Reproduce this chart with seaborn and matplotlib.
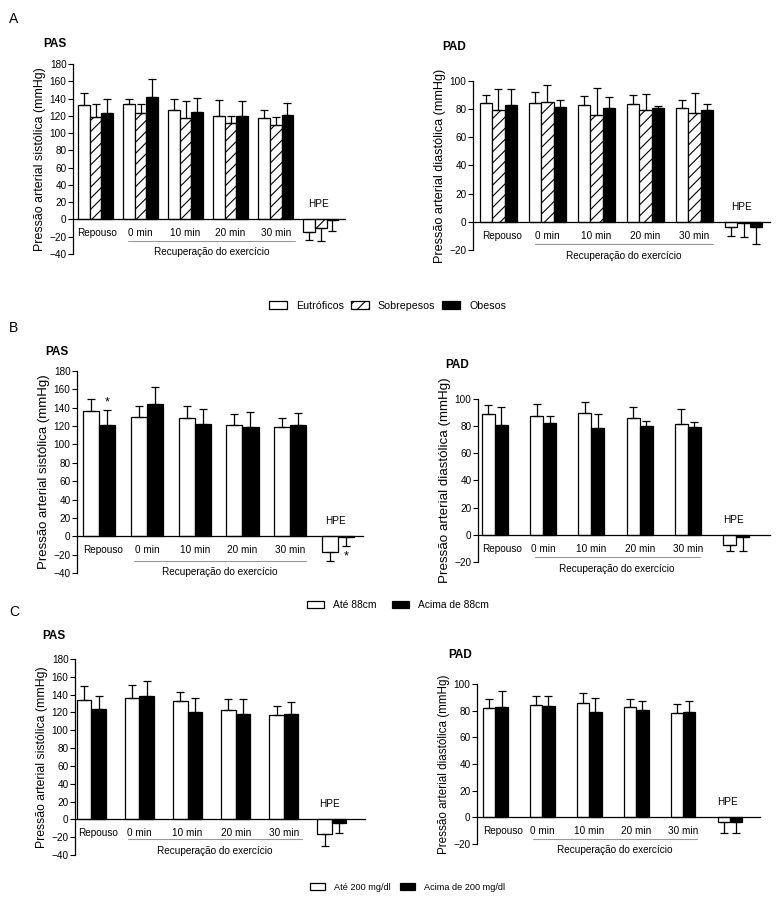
import numpy as np
import pandas as pd
import matplotlib
matplotlib.use("Agg")
import matplotlib.pyplot as plt
import seaborn as sns
from matplotlib.patches import Patch
from matplotlib.transforms import offset_copy

# ---- data ----
times = ["Repouso", "0 min", "10 min", "20 min", "30 min", "HPE"]

grupos_a = ["Eutróficos", "Sobrepesos", "Obesos"]
grupos_b = ["Até 88cm", "Acima de 88cm"]
grupos_c = ["Até 200 mg/dl", "Acima de 200 mg/dl"]

# A - IMC
pas_a_eut = [132, 134, 127, 120, 117, -14.6]
pas_a_eut_dp = [15, 6, 13, 18, 10, 9.5]
pas_a_sob = [118.5, 123, 117, 111.5, 109, -9.5]
pas_a_sob_dp = [15.5, 11, 20, 8.5, 10, 15.5]
pas_a_obe = [123, 142, 125, 120, 121.5, -1]
pas_a_obe_dp = [16, 21, 16, 17, 13.5, 12.5]

pad_a_eut = [84.6, 84.4, 82.7, 84, 81, -4]
pad_a_eut_dp = [5.2, 8, 6.7, 5.8, 5.3, 6]
pad_a_sob = [79.2, 85, 76, 79.2, 77.3, -1]
pad_a_sob_dp = [15.4, 12, 19.3, 11.8, 14.2, 10]
pad_a_obe = [83.2, 81.8, 81, 80.6, 79.7, -3.5]
pad_a_obe_dp = [11.4, 5, 7.6, 1.7, 3.7, 12.3]

# B - circunferencia abdominal
pas_b_ate = [136.3, 130, 128.7, 121.5, 119, -17]
pas_b_ate_dp = [13.1, 12, 12.7, 11.5, 10, 10]
pas_b_aci = [121.5, 144, 122.6, 119.3, 121, -1]
pas_b_aci_dp = [15.9, 18.4, 16.4, 15.7, 13, 10]

pad_b_ate = [88.9, 87.7, 89.6, 86.2, 81.5, -7.2]
pad_b_ate_dp = [6.9, 8.8, 8.2, 7.8, 11.3, 4.8]
pad_b_aci = [81, 82.2, 79, 79.8, 79.3, -1.7]
pad_b_aci_dp = [12.8, 5, 9.9, 4.2, 3.7, 10.3]

# C - colesterol
pas_c_ate = [134.3, 136, 132.5, 122.4, 117, -16]
pas_c_ate_dp = [15.7, 14.7, 10, 12.6, 10.6, 14]
pas_c_aci = [124, 138, 121, 118.3, 118.7, -4.5]
pas_c_aci_dp = [14, 17.6, 15.6, 16.7, 12.6, 10.5]

pad_c_ate = [81.75, 84, 86, 83, 78, -3.75]
pad_c_ate_dp = [7, 7, 7, 6, 6.75, 7.75]
pad_c_aci = [82.5, 83.5, 78.75, 80.5, 79.25, -3.25]
pad_c_aci_dp = [12.5, 7.5, 11, 7, 8, 8.75]

# ---- figure ----
sns.set_style("ticks")
plt.rcParams["font.family"] = ["Liberation Sans", "DejaVu Sans"]
plt.rcParams["hatch.linewidth"] = 0.8
for k in ("axes.edgecolor", "text.color", "axes.labelcolor", "xtick.color", "ytick.color"):
    plt.rcParams[k] = "black"

W, H = 777, 902
fig = plt.figure(figsize=(W / 100, H / 100), dpi=100)


def add_ax(left, top, right, bottom):
    return fig.add_axes([left / W, 1 - bottom / H, (right - left) / W, (bottom - top) / H])


def shifted(ax, dy, dx=0):
    return offset_copy(ax.transData, fig=fig, x=dx, y=dy, units="dots")


def draw_panel(ax, groups, means, sds, colors, hatches, ylim, ylabel, ylabel_size,
               xlim, width, line_x, line_off, rec_off, rep_dx):
    rows = []
    for g, m in zip(groups, means):
        for t, v in zip(times, m):
            rows.append({"tempo": t, "grupo": g, "valor": v})
    df = pd.DataFrame(rows)

    sns.barplot(data=df, x="tempo", y="valor", hue="grupo", order=times, hue_order=groups,
                palette=dict(zip(groups, colors)), edgecolor="black", linewidth=0.9,
                width=width, errorbar=None, legend=False, ax=ax, zorder=2)

    # one-sided error bars, in the direction of the bar
    for cont, sd, hatch in zip(ax.containers, sds, hatches):
        for bar, s in zip(cont, sd):
            if hatch:
                bar.set_hatch(hatch)
            x = bar.get_x() + bar.get_width() / 2
            y = bar.get_y() + bar.get_height()
            yerr = [[s], [0]] if y < 0 else [[0], [s]]
            ax.errorbar(x, y, yerr=yerr, fmt="none", ecolor="black", elinewidth=0.9,
                        capsize=2.6, capthick=0.9, zorder=3)

    ax.spines["top"].set_visible(False)
    ax.spines["right"].set_visible(False)
    ax.spines["bottom"].set_position(("data", 0))
    for sp in ("left", "bottom"):
        ax.spines[sp].set_linewidth(0.9)

    ax.set_xlim(xlim)
    ax.set_ylim(ylim)
    ax.set_yticks(np.arange(ylim[0], ylim[1] + 1, 20))
    ax.set_xticks([])
    ax.tick_params(axis="y", direction="out", length=3.6, width=0.8, pad=1, labelsize=7.2)
    ax.set_xlabel("")
    ax.set_ylabel(ylabel, fontsize=ylabel_size)
    ax_w = ax.get_position().width * W
    ax.yaxis.set_label_coords(-27 / ax_w, 0.5)

    # category labels under the zero line, HPE above it
    for i, t in enumerate(times[:5]):
        dx = rep_dx if i == 0 else 0
        ax.text(i, 0, t, transform=shifted(ax, -14, dx), ha="center", va="center",
                fontsize=7.2)
    ax.text(5 - 0.05, 0, "HPE", transform=shifted(ax, 15), ha="center", va="center",
            fontsize=7.2)
    ax.plot(line_x, [0, 0], transform=shifted(ax, -line_off), color="#999999", lw=0.8,
            clip_on=False)
    ax.text(np.mean(line_x), 0, "Recuperação do exercício", transform=shifted(ax, -rec_off),
            ha="center", va="center", fontsize=7.2)


def title(x, y, s):
    fig.text(x / W, 1 - y / H, s, ha="left", va="center", fontsize=8.5, fontweight="bold")


def letter(x, y, s):
    fig.text(x / W, 1 - y / H, s, ha="left", va="center", fontsize=10)


ylab_s = "Pressão arterial sistólica (mmHg)"
ylab_d = "Pressão arterial diastólica (mmHg)"
cores_a = ["white", "white", "black"]
hach_a = [None, "///", None]
cores_2 = ["white", "black"]
hach_2 = [None, None]

# A
ax = add_ax(73, 64, 345, 254)
draw_panel(ax, grupos_a, [pas_a_eut, pas_a_sob, pas_a_obe],
           [pas_a_eut_dp, pas_a_sob_dp, pas_a_obe_dp], cores_a, hach_a,
           (-40, 180), ylab_s, 8.9, (-0.5, 5.54), 0.78, [0.72, 4.43], 22, 33, 2)
ax = add_ax(473, 81, 770, 250)
draw_panel(ax, grupos_a, [pad_a_eut, pad_a_sob, pad_a_obe],
           [pad_a_eut_dp, pad_a_sob_dp, pad_a_obe_dp], cores_a, hach_a,
           (-20, 100), ylab_d, 9.1, (-0.52, 5.54), 0.76, [0.745, 4.38], 22, 34, 4)

# B
ax_bs = add_ax(77, 371, 363, 573)
draw_panel(ax_bs, grupos_b, [pas_b_ate, pas_b_aci], [pas_b_ate_dp, pas_b_aci_dp],
           cores_2, hach_2, (-40, 180), ylab_s, 9.5, (-0.46, 5.52), 0.67, [0.73, 4.33],
           25, 36, 4)
# significance marks
for i, dy, va in [(0, 2, "bottom"), (5, -4, "top")]:
    bar = ax_bs.containers[1][i]
    x = bar.get_x() + bar.get_width() / 2
    y = bar.get_height() + (pas_b_aci_dp[i] if bar.get_height() >= 0 else -pas_b_aci_dp[i])
    ax_bs.text(x, y, "*", transform=shifted(ax_bs, dy), ha="center", va=va, fontsize=9)

ax = add_ax(478, 399, 770, 562)
draw_panel(ax, grupos_b, [pad_b_ate, pad_b_aci], [pad_b_ate_dp, pad_b_aci_dp],
           cores_2, hach_2, (-20, 100), ylab_d, 9.6, (-0.35, 5.7), 0.54, [0.83, 4.24],
           22, 34, 7)

# C
ax = add_ax(75, 659, 365, 855)
draw_panel(ax, grupos_c, [pas_c_ate, pas_c_aci], [pas_c_ate_dp, pas_c_aci_dp],
           cores_2, hach_2, (-40, 180), ylab_s, 8.8, (-0.34, 5.69), 0.6, [0.76, 4.38],
           20, 32, 6.5)
ax = add_ax(477, 684, 760, 844)
draw_panel(ax, grupos_c, [pad_c_ate, pad_c_aci], [pad_c_ate_dp, pad_c_aci_dp],
           cores_2, hach_2, (-20, 100), ylab_d, 8.4, (-0.39, 5.64), 0.53, [0.8, 4.3],
           22, 33, 7.5)

# titles and panel letters
letter(9, 19, "A")
letter(9, 328, "B")
letter(9, 612, "C")
title(43, 44, "PAS")
title(442, 47, "PAD")
title(45, 352, "PAS")
title(445, 365, "PAD")
title(42, 636, "PAS")
title(448, 655, "PAD")


def legend(groups, colors, hatches, cx, cy, fs, hl, hh, htp, cs):
    handles = [Patch(facecolor=c, edgecolor="black", hatch=h, linewidth=0.9)
               for c, h in zip(colors, hatches)]
    fig.legend(handles, groups, loc="center", bbox_to_anchor=(cx / W, 1 - cy / H),
               ncol=len(groups), frameon=False, fontsize=fs, handlelength=hl,
               handleheight=hh, handletextpad=htp, columnspacing=cs, borderpad=0)


legend(grupos_a, cores_a, hach_a, 387.5, 306, 7.7, 1.68, 0.75, 0.84, 0.65)
legend(grupos_b, cores_2, hach_2, 398, 605, 7.4, 1.65, 0.78, 0.87, 1.55)
legend(grupos_c, cores_2, hach_2, 407.5, 887, 6.6, 1.63, 0.87, 0.98, 0.98)

fig.savefig("out.png", dpi=100)
